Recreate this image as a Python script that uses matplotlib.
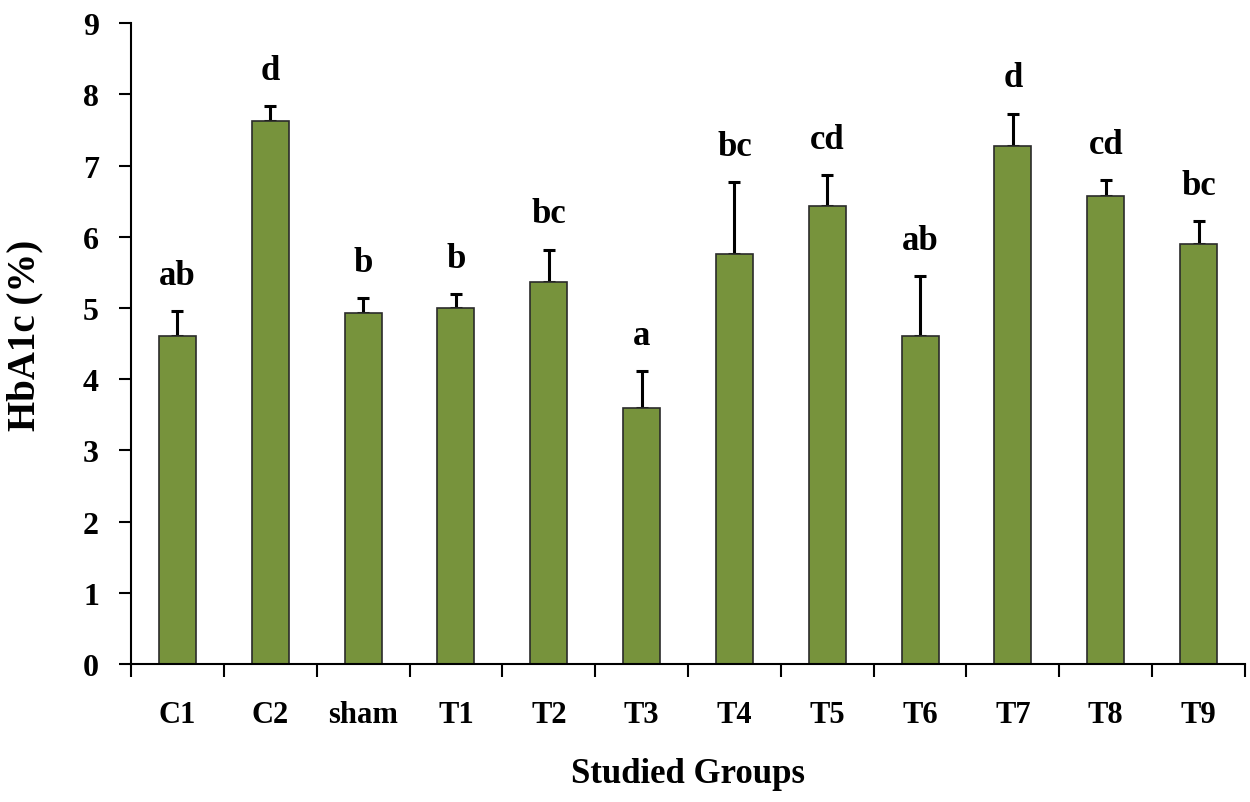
import numpy as np
import matplotlib.pyplot as plt

groups = ["C1", "C2", "sham", "T1", "T2", "T3", "T4", "T5", "T6", "T7", "T8", "T9"]
hba1c = [4.60, 7.63, 4.93, 5.00, 5.37, 3.60, 5.76, 6.43, 4.60, 7.27, 6.57, 5.90]
err_top = [4.96, 7.84, 5.14, 5.20, 5.82, 4.12, 6.77, 6.87, 5.45, 7.73, 6.79, 6.22]
letters = ["ab", "d", "b", "b", "bc", "a", "bc", "cd", "ab", "d", "cd", "bc"]

plt.rcParams['font.family'] = ['Liberation Serif', 'DejaVu Serif']
plt.rcParams['font.weight'] = 'bold'

fig = plt.figure(figsize=(12.5, 8.03), dpi=100)
ax = fig.add_axes([0.1048, 0.1719, 0.8912, 0.7981])

x = np.arange(len(groups))
sd = np.array(err_top) - np.array(hba1c)
ax.bar(x, hba1c, width=0.4, color='#77933C', edgecolor='#2b2b2b', linewidth=1.2, zorder=2)
ax.errorbar(x, hba1c, yerr=[np.zeros_like(sd), sd], fmt='none', ecolor='black',
            elinewidth=2.2, capsize=4, capthick=2.2, zorder=1)

# significance letters above each error bar
for xi, top, lab in zip(x, err_top, letters):
    ax.text(xi, top + 0.38, lab, ha='center', va='baseline', fontsize=25, fontweight='bold')

ax.set_xlim(-0.5, len(groups) - 0.5)
ax.set_ylim(0, 9)
ax.set_yticks(range(10))
ax.set_yticklabels([str(i) for i in range(10)], fontsize=23, fontweight='bold')
ax.set_xticks(np.arange(-0.5, len(groups), 1.0))
ax.set_xticklabels([])
ax.set_xticks(x, minor=True)
ax.set_xticklabels(groups, minor=True, fontsize=22, fontweight='bold')
ax.tick_params(axis='x', which='minor', length=0, pad=26)
ax.tick_params(axis='x', which='major', length=9, width=1.5, direction='out')
ax.tick_params(axis='y', length=9, width=1.5, direction='out', pad=14)

for side in ['top', 'right']:
    ax.spines[side].set_visible(False)
for side in ['left', 'bottom']:
    ax.spines[side].set_linewidth(1.5)

ax.set_ylabel("HbA1c (%)", fontsize=28, fontweight='bold', va='center')
ax.yaxis.set_label_coords(-0.0952, 0.515)
ax.set_xlabel("Studied Groups", fontsize=25, fontweight='bold', va='center')
ax.xaxis.set_label_coords(0.5, -0.1716)

fig.savefig("out.png", dpi=100)
